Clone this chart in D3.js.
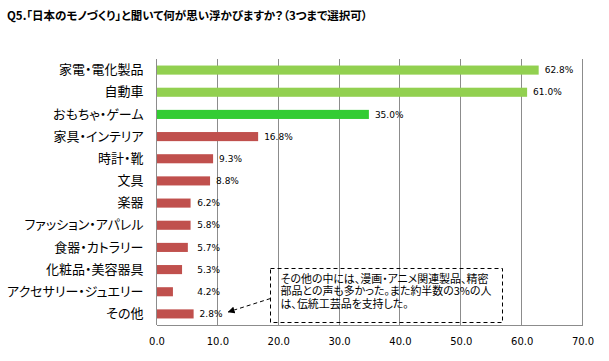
<!DOCTYPE html>
<html><head><meta charset="utf-8">
<script src="https://cdn.jsdelivr.net/npm/d3@7"></script>
<style>body{margin:0;background:#fff}svg{display:block}
.jp{font-family:'Noto Sans CJK JP',sans-serif;font-feature-settings:"palt" 1;}
</style>
</head><body>
<svg id="c" width="609" height="361"></svg>
<script>
const title = "Q5.「日本のモノづくり」と聞いて何が思い浮かびますか？（3つまで選択可）";
const categories = ["家電・電化製品","自動車","おもちゃ・ゲーム","家具・インテリア","時計・靴","文具","楽器","ファッション・アパレル","食器・カトラリー","化粧品・美容器具","アクセサリー・ジュエリー","その他"];
const barValues = [62.8, 60.9, 34.9, 16.7, 9.3, 8.8, 5.6, 5.6, 5.15, 4.2, 2.7, 6.1];
const valueLabels = ["62.8%","61.0%","35.0%","16.8%","9.3%","8.8%","6.2%","5.8%","5.7%","5.3%","4.2%","2.8%"];
const groups = ["light","light","bright","red","red","red","red","red","red","red","red","red"];
const ticks = [0,10,20,30,40,50,60,70];
const noteLines = ["その他の中には、漫画・アニメ関連製品、精密","部品との声も多かった。また約半数の3%の人","は、伝統工芸品を支持した。"];

const colors = {light:"#92D050", bright:"#33CC33", red:"#C0504D"};
const svg = d3.select("#c");
const L = 156.5, R = 582.5, T = 59, B = 325;
const x = d3.scaleLinear().domain([0,70]).range([L,R]);
const y = d3.scaleBand().domain(categories).range([T,B]).paddingInner(0.59).paddingOuter(0.295);

function fitWidth(sel, target){
  const fs = +sel.attr("font-size");
  const w = sel.node().getComputedTextLength();
  if (w > 0) sel.attr("font-size", fs*target/w);
}

const tt = svg.append("text").attr("class","jp").attr("x",7).attr("y",20)
  .attr("font-size",11).attr("font-weight","bold").attr("fill","#000").text(title);
fitWidth(tt, 361);

// gridlines
svg.append("g").selectAll("line").data(ticks).join("line")
  .attr("x1",d=>x(d)).attr("x2",d=>x(d)).attr("y1",T).attr("y2",B)
  .attr("stroke","#8c8c8c").attr("stroke-width",1).attr("shape-rendering","crispEdges");
svg.append("line").attr("x1",L).attr("x2",R).attr("y1",B).attr("y2",B)
  .attr("stroke","#8c8c8c").attr("shape-rendering","crispEdges");

// x axis labels
const xa = svg.append("g").attr("transform",`translate(0,${B})`)
  .call(d3.axisBottom(x).tickValues(ticks).tickFormat(d3.format(".1f")).tickSize(0).tickPadding(13));
xa.select(".domain").remove();
xa.selectAll("text").attr("font-family","'DejaVu Sans', sans-serif").attr("font-size",10).attr("fill","#000");

// y axis labels
const ya = svg.append("g").attr("transform",`translate(${L},0)`)
  .call(d3.axisLeft(y).tickSize(0).tickPadding(13));
ya.select(".domain").remove();
ya.attr("font-family",null);
ya.selectAll("text").attr("class","jp").attr("font-size",13).attr("fill","#000");

// bars
svg.append("g").selectAll("rect").data(categories).join("rect")
  .attr("x",x(0)+0.5).attr("y",d=>y(d))
  .attr("width",(d,i)=>x(barValues[i])-x(0)-0.5).attr("height",y.bandwidth())
  .attr("fill",(d,i)=>colors[groups[i]]);

// value labels
svg.append("g").selectAll("text").data(categories).join("text")
  .attr("x",(d,i)=>Math.max(x(barValues[i])+6, x(6.7)))
  .attr("y",d=>y(d)+y.bandwidth()/2).attr("dy","0.35em")
  .attr("font-family","'DejaVu Sans', sans-serif").attr("font-size",9).attr("fill","#000")
  .text((d,i)=>valueLabels[i]);

// annotation box (transparent, gridlines show through)
const bx = 270.5, by = 268.5, bw = 232, bh = 54;
svg.append("rect").attr("x",bx).attr("y",by).attr("width",bw).attr("height",bh)
  .attr("fill","none").attr("stroke","#000").attr("stroke-dasharray","4,3").attr("stroke-width",1);
const note = svg.append("text").attr("class","jp").attr("font-size",10).attr("fill","#000");
note.selectAll("tspan").data(noteLines).join("tspan")
  .attr("x",bx+10).attr("y",(d,i)=>by+14+i*12.5).text(d=>d);
const l1 = note.select("tspan").node();
const w1 = l1.getComputedTextLength();
if (w1 > 0) note.attr("font-size", 10*208/w1);

// arrow
const last = categories[categories.length-1];
const ay = y(last)+y.bandwidth()/2;
svg.append("defs").append("marker").attr("id","ah").attr("viewBox","0 0 10 10")
  .attr("refX",9).attr("refY",5).attr("markerWidth",7).attr("markerHeight",7).attr("orient","auto")
  .append("path").attr("d","M0,0L10,5L0,10Z").attr("fill","#000");
svg.append("line").attr("x1",bx).attr("y1",by+30).attr("x2",x(11.8)).attr("y2",ay-2)
  .attr("stroke","#000").attr("stroke-dasharray","4,3").attr("marker-end","url(#ah)");
</script>
</body></html>
